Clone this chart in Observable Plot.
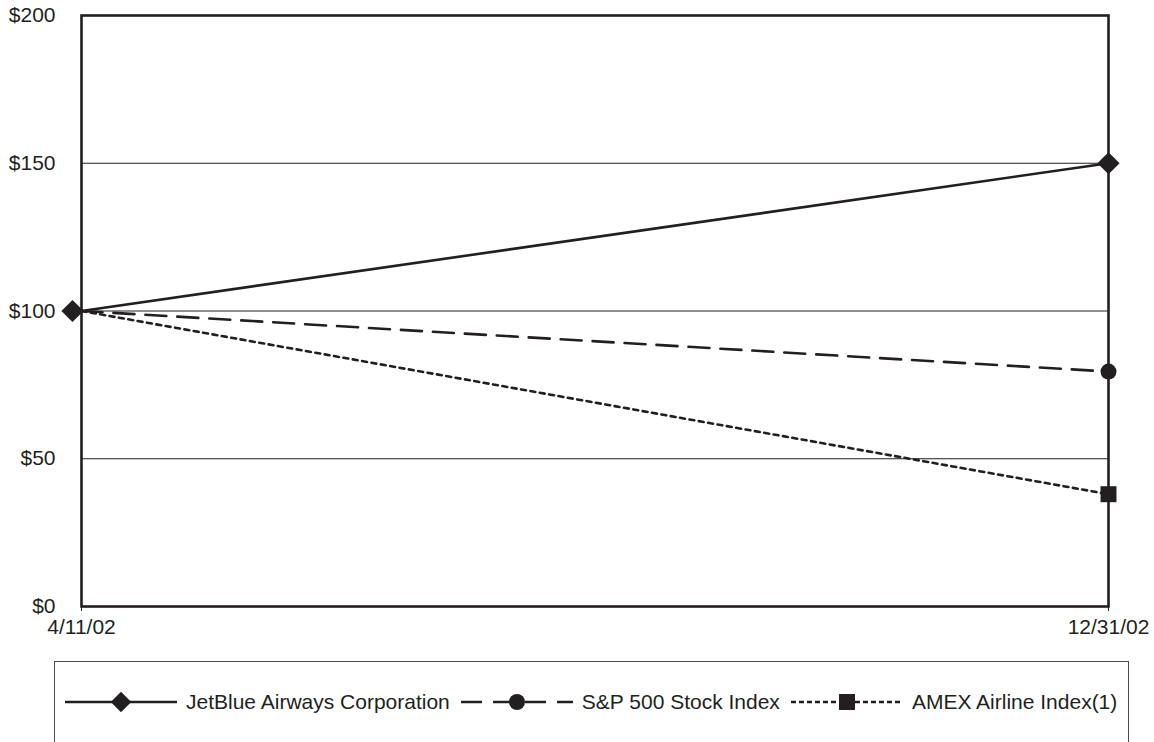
<!DOCTYPE html>
<html>
<head>
<meta charset="utf-8">
<script src="https://cdn.jsdelivr.net/npm/d3@7"></script>
<script src="https://cdn.jsdelivr.net/npm/@observablehq/plot@0.6"></script>
<style>
  html, body { margin: 0; padding: 0; background: #fff; overflow: hidden; }
  body { font-family: "Liberation Sans", Arial, Helvetica, sans-serif; color: #231f20; }
  #legend {
    margin-left: 54px; width: 1075px; height: 120px; margin-top: 11px;
    border: 1.5px solid #4a4a4a; border-bottom: none; box-sizing: border-box;
    display: flex; flex-wrap: nowrap; align-items: flex-start;
    padding-left: 10px; padding-top: 28px;
  }
  .item { display: flex; align-items: center; height: 24px; }
  .item svg { display: block; }
  .item span { font-size: 21px; white-space: nowrap; margin-left: 9px; margin-right: 11px; line-height: 24px; }
</style>
</head>
<body>
<div id="chart"></div>
<div id="legend"></div>
<script>
// ---- data ----
const dates = ["2002-04-11", "2002-12-31"];
const dateLabels = ["4/11/02", "12/31/02"];
const seriesNames = ["JetBlue Airways Corporation", "S&P 500 Stock Index", "AMEX Airline Index(1)"];
const jetblue = [100, 150];
const sp500 = [100, 79.5];
const amex = [100, 38];
const yTicks = [0, 50, 100, 150, 200];
const gridValues = [50, 100, 150];

const ink = "#231f20";
const parsed = dates.map(d => new Date(d + "T00:00:00Z"));
const seriesValues = [jetblue, sp500, amex];
const rows = [];
seriesNames.forEach((s, i) => parsed.forEach((d, j) => rows.push({series: s, date: d, value: seriesValues[i][j], idx: j})));
const dashes = [null, "21,11", "5,4.5"];
const symbols = ["diamond2", "circle", "square"];
const radii = [10, 8, 9];

const marks = [
  Plot.ruleY(gridValues, {stroke: ink, strokeWidth: 1.2}),
];
seriesNames.forEach((s, i) => {
  marks.push(Plot.line(rows.filter(r => r.series === s), {
    x: "date", y: "value", stroke: ink, strokeWidth: 2.6,
    strokeDasharray: dashes[i] || undefined
  }));
});
// end markers
seriesNames.forEach((s, i) => {
  marks.push(Plot.dot(rows.filter(r => r.series === s && r.idx === 1), {
    x: "date", y: "value", symbol: () => symbols[i], r: radii[i], fill: ink, stroke: "none"
  }));
});
// start diamond (slightly offset left, as in the reference)
marks.push(Plot.dot(rows.filter(r => r.series === seriesNames[0] && r.idx === 0), {
  x: "date", y: "value", symbol: () => "diamond2", r: 10, fill: ink, stroke: "none", dx: -9
}));
marks.push(Plot.frame({stroke: ink, strokeWidth: 2.6}));
marks.push(Plot.axisY(yTicks, {tickSize: 0, tickPadding: 26, tickFormat: d => "$" + d, fontSize: 21, label: null}));
marks.push(Plot.axisX(parsed, {tickSize: 5, tickPadding: 8, fontSize: 21, label: null,
  tickFormat: d => dateLabels[parsed.findIndex(p => +p === +d)], stroke: ink}));

const chart = Plot.plot({
  width: 1154, height: 650,
  marginTop: 15, marginBottom: 44, marginLeft: 81, marginRight: 46,
  style: {fontFamily: "'Liberation Sans', Arial, Helvetica, sans-serif", fontSize: "21px", color: ink, background: "#fff"},
  x: {type: "utc", domain: parsed},
  y: {domain: [0, 200]},
  marks
});
document.getElementById("chart").appendChild(chart);

// ---- legend ----
const legend = d3.select("#legend");
seriesNames.forEach((s, i) => {
  const item = legend.append("div").attr("class", "item");
  const svg = item.append("svg").attr("width", 112).attr("height", 24);
  const line = svg.append("line").attr("x1", 0).attr("x2", 112).attr("y1", 12).attr("y2", 12)
    .attr("stroke", ink).attr("stroke-width", 2.6);
  if (i === 1) line.attr("stroke-dasharray", "21,11");
  if (i === 2) line.attr("stroke-dasharray", "5,3");
  const sym = d3.symbol().type(i === 0 ? d3.symbolDiamond2 : i === 1 ? d3.symbolCircle : d3.symbolSquare)
    .size(Math.PI * radii[i] * radii[i] * (i === 0 ? 0.85 : 1));
  svg.append("path").attr("d", sym()).attr("transform", `translate(56,12)`).attr("fill", ink);
  item.append("span").text(s);
});
</script>
</body>
</html>
